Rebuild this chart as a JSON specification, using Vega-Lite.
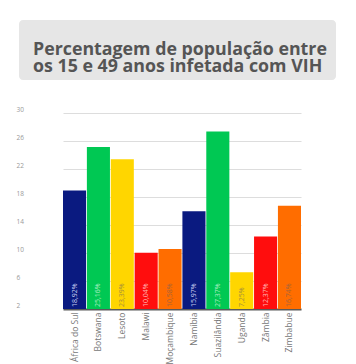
{
  "$schema": "https://vega.github.io/schema/vega-lite/v6.json",
  "padding": {"left": 16, "top": 20, "right": 20, "bottom": 0},
  "background": "white",
  "config": {"view": {"stroke": null}, "font": "Open Sans"},
  "spacing": 33,
  "bounds": "flush",
  "vconcat": [
    {
      "width": 317,
      "height": 60,
      "data": {"values": [{"titulo": ["Percentagem de população entre", "os 15 e 49 anos infetada com VIH"]}]},
      "layer": [
        {
          "mark": {"type": "rect", "color": "#e6e6e6", "cornerRadius": 4},
          "encoding": {}
        },
        {
          "mark": {"type": "text", "align": "left", "baseline": "middle", "dx": 14, "fontSize": 17.8, "fontWeight": "bold", "color": "#555555", "font": "Open Sans", "lineHeight": 17},
          "encoding": {
            "x": {"datum": 0, "type": "quantitative", "scale": {"domain": [0, 1]}, "axis": null},
            "text": {"field": "titulo"}
          }
        }
      ]
    },
    {
      "width": 317,
      "height": 196,
      "data": {
        "values": [
          {"pais": "África do Sul", "valor": 18.92, "rotulo": "18,92%"},
          {"pais": "Botswana", "valor": 25.16, "rotulo": "25,16%"},
          {"pais": "Lesoto", "valor": 23.39, "rotulo": "23,39%"},
          {"pais": "Malawi", "valor": 10.04, "rotulo": "10,04%"},
          {"pais": "Moçambique", "valor": 10.58, "rotulo": "10,58%"},
          {"pais": "Namíbia", "valor": 15.97, "rotulo": "15,97%"},
          {"pais": "Suazilândia", "valor": 27.37, "rotulo": "27,37%"},
          {"pais": "Uganda", "valor": 7.25, "rotulo": "7,25%"},
          {"pais": "Zâmbia", "valor": 12.37, "rotulo": "12,37%"},
          {"pais": "Zimbabue", "valor": 16.74, "rotulo": "16,74%"}
        ]
      },
      "encoding": {
        "x": {
          "field": "pais",
          "type": "nominal",
          "sort": null,
          "scale": {"range": [44, 282], "paddingInner": 0.034, "paddingOuter": 0},
          "axis": {
            "title": null,
            "labelAngle": -90,
            "labelAlign": "right",
            "labelBaseline": "middle",
            "labelFontSize": 8.5,
            "labelColor": "#777777",
            "labelPadding": 3,
            "ticks": false,
            "domainColor": "#5a5a5a",
            "domainWidth": 2,
            "labelFont": "Open Sans"
          }
        }
      },
      "layer": [
        {
          "mark": {"type": "bar"},
          "encoding": {
            "y": {
              "field": "valor",
              "type": "quantitative",
              "scale": {"domain": [2, 30], "nice": false, "zero": false},
              "axis": {
                "title": null,
                "values": [2, 6, 10, 14, 18, 22, 26, 30],
                "domain": false,
                "ticks": false,
                "tickSize": 0,
                "gridColor": "#dddddd",
                "labelAlign": "left",
                "labelBaseline": "alphabetic",
                "labelOffset": -2,
                "labelPadding": 3,
                "labelOverlap": false,
                "labelFontSize": 6.5,
                "labelColor": "#999999",
                "labelFont": "Open Sans"
              }
            },
            "y2": {"datum": 2},
            "color": {
              "field": "pais",
              "type": "nominal",
              "scale": {
                "domain": ["África do Sul", "Botswana", "Lesoto", "Malawi", "Moçambique", "Namíbia", "Suazilândia", "Uganda", "Zâmbia", "Zimbabue"],
                "range": ["#0a1a80", "#00c853", "#ffd600", "#ff0d0d", "#ff6d00", "#0a1a80", "#00c853", "#ffd600", "#ff0d0d", "#ff6d00"]
              },
              "legend": null
            }
          }
        },
        {
          "mark": {"type": "text", "angle": 270, "align": "left", "baseline": "middle", "dx": 2, "fontSize": 7, "font": "Open Sans"},
          "encoding": {
            "y": {
              "datum": 2,
              "type": "quantitative",
              "scale": {"domain": [2, 30], "nice": false, "zero": false},
              "axis": {
                "title": null,
                "values": [2, 6, 10, 14, 18, 22, 26, 30],
                "domain": false,
                "ticks": false,
                "tickSize": 0,
                "gridColor": "#dddddd",
                "labelAlign": "left",
                "labelBaseline": "alphabetic",
                "labelOffset": -2,
                "labelPadding": 3,
                "labelOverlap": false,
                "labelFontSize": 6.5,
                "labelColor": "#999999",
                "labelFont": "Open Sans"
              }
            },
            "text": {"field": "rotulo"},
            "color": {
              "field": "pais",
              "type": "nominal",
              "scale": {
                "domain": ["África do Sul", "Botswana", "Lesoto", "Malawi", "Moçambique", "Namíbia", "Suazilândia", "Uganda", "Zâmbia", "Zimbabue"],
                "range": ["#c5c9ee", "#a6eec0", "#a8903a", "#ffb3b3", "#a8643a", "#c5c9ee", "#a6eec0", "#a8903a", "#ffb3b3", "#a8643a"]
              },
              "legend": null
            }
          }
        }
      ],
      "resolve": {"scale": {"color": "independent"}}
    }
  ]
}
